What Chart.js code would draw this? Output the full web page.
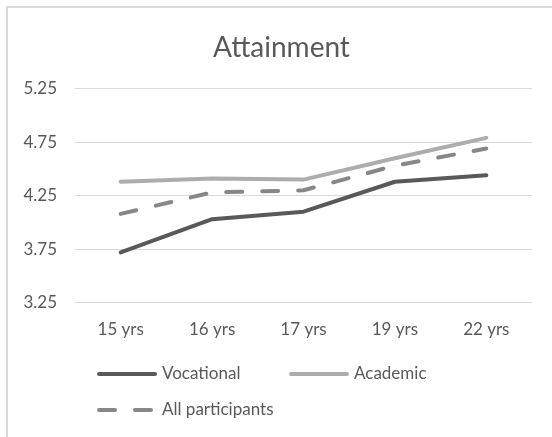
<!DOCTYPE html>
<html>
<head>
<meta charset="utf-8">
<script src="https://cdn.jsdelivr.net/npm/chart.js@4/dist/chart.umd.min.js"></script>
<style>
  html, body { margin: 0; padding: 0; background: #ffffff; overflow: hidden; width: 552px; height: 437px; }
  #frame { position: absolute; left: 6px; top: 6px; width: 700px; height: 600px; border: 2px solid #d9d9d9; box-sizing: border-box; }
  #wrap { position: absolute; left: 0; top: 0; width: 552px; height: 437px; }
</style>
</head>
<body>
<div id="frame"></div>
<div id="wrap"><canvas id="chart" width="552" height="437"></canvas></div>
<script>
// Survey waves and mean attainment scores per group
const categories = ['15 yrs', '16 yrs', '17 yrs', '19 yrs', '22 yrs'];
const vocational = [3.72, 4.03, 4.10, 4.38, 4.44];
const academic = [4.38, 4.41, 4.40, 4.60, 4.79];
const allParticipants = [4.08, 4.28, 4.30, 4.53, 4.69];
const yTicks = [3.25, 3.75, 4.25, 4.75, 5.25];

const FONT = 'Lato';
const TEXT = '#595959';

// Two-column legend drawn under the plot, rows aligned to the left
const rowLegend = {
  id: 'rowLegend',
  afterDraw(chart) {
    const ctx = chart.ctx;
    const startX = 97, colW = 192, rowY = [374, 410], lineLen = 60;
    chart.data.datasets.forEach((ds, i) => {
      const col = i % 2, row = Math.floor(i / 2);
      const x = startX + col * colW, y = rowY[row];
      ctx.save();
      ctx.strokeStyle = ds.borderColor;
      ctx.lineWidth = ds.borderWidth;
      ctx.lineCap = 'round';
      ctx.setLineDash(ds.borderDash || []);
      ctx.beginPath();
      ctx.moveTo(x + 2, y);
      ctx.lineTo(x + lineLen - 2, y);
      ctx.stroke();
      ctx.restore();
      ctx.save();
      ctx.fillStyle = TEXT;
      ctx.font = '17px ' + FONT;
      ctx.textBaseline = 'middle';
      ctx.textAlign = 'left';
      ctx.fillText(ds.label, x + lineLen + 5, y);
      ctx.restore();
    });
  }
};

const lineStyle = { borderWidth: 4, pointRadius: 0, tension: 0, borderCapStyle: 'round', borderJoinStyle: 'round', fill: false };

new Chart(document.getElementById('chart'), {
  type: 'line',
  data: {
    labels: categories,
    datasets: [
      Object.assign({ label: 'Vocational', data: vocational, borderColor: '#595959' }, lineStyle),
      Object.assign({ label: 'Academic', data: academic, borderColor: '#adadad' }, lineStyle),
      Object.assign({ label: 'All participants', data: allParticipants, borderColor: '#878787', borderDash: [16, 20] }, lineStyle)
    ]
  },
  options: {
    responsive: false,
    animation: false,
    layout: { padding: { left: 11, right: 0, top: 0, bottom: 0 } },
    plugins: {
      legend: { display: false },
      tooltip: { enabled: false },
      title: {
        display: true,
        text: 'Attainment',
        color: TEXT,
        font: { family: FONT, size: 28, weight: 'normal' },
        padding: { top: 31, bottom: 24 }
      }
    },
    scales: {
      x: {
        type: 'category',
        offset: true,
        grid: { display: false },
        border: { display: false },
        ticks: { color: TEXT, font: { family: FONT, size: 17 }, padding: 9, maxRotation: 0 },
        afterFit(scale) { scale.height = 437 - 302.7; }
      },
      y: {
        min: 3.25,
        max: 5.25,
        afterBuildTicks(scale) { scale.ticks = yTicks.map(v => ({ value: v })); },
        grid: { color: '#d9d9d9', lineWidth: 1, drawTicks: false },
        border: { display: false },
        ticks: {
          color: TEXT,
          font: { family: FONT, size: 17 },
          padding: 18,
          callback: v => Number(v).toFixed(2)
        },
        afterFit(scale) { scale.width = 64; }
      },
      gap: {
        position: 'right',
        display: true,
        grid: { display: false },
        border: { display: false },
        ticks: { display: false },
        afterFit(scale) { scale.width = 20; }
      }
    }
  },
  plugins: [rowLegend]
});
</script>
</body>
</html>
